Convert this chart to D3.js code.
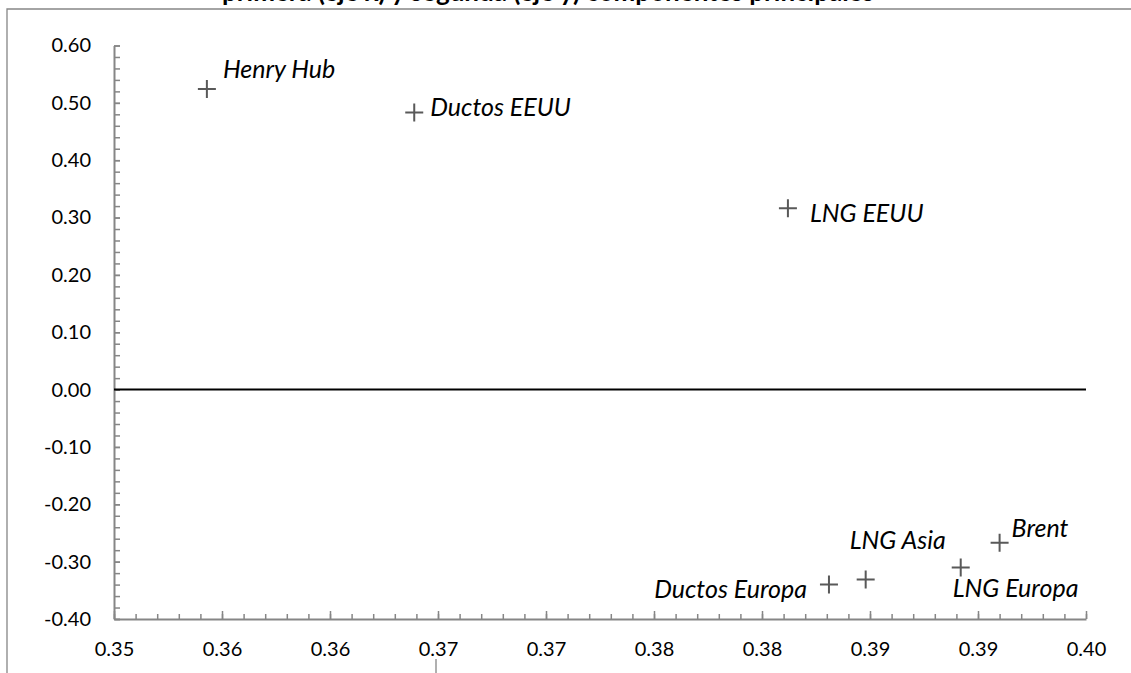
<!DOCTYPE html>
<html>
<head>
<meta charset="utf-8">
<script src="https://cdn.jsdelivr.net/npm/d3@7"></script>
<style>
    body { margin: 0; background: #fff; }
    #chart { width: 1131px; height: 673px; }
    .tick-label { font-family: Lato, "Open Sans", sans-serif; font-size: 20px; fill: #000; }
    .point-label { font-family: Lato, "Open Sans", sans-serif; font-size: 25px; font-style: italic; fill: #000; }
    .chart-title { font-family: Lato, "Open Sans", sans-serif; font-size: 26px; font-weight: bold; fill: #000; }
</style>
</head>
<body>
<div id="chart"></div>
<script>

// data
const seriesNames = ["Henry Hub", "Ductos EEUU", "LNG EEUU", "Ductos Europa", "LNG Asia", "LNG Europa", "Brent"];
const xValues = [0.3543, 0.3639, 0.3812, 0.3831, 0.3848, 0.3892, 0.3910];
const yValues = [0.524, 0.483, 0.316, -0.340, -0.331, -0.310, -0.267];

// axis ticks
const xTicks = [0.35, 0.355, 0.36, 0.365, 0.37, 0.375, 0.38, 0.385, 0.39, 0.395];
const xTickLabels = ["0.35", "0.36", "0.36", "0.37", "0.37", "0.38", "0.38", "0.39", "0.39", "0.40"];
const yTicks = [-0.4, -0.3, -0.2, -0.1, 0, 0.1, 0.2, 0.3, 0.4, 0.5, 0.6];
const yTickLabels = ["-0.40", "-0.30", "-0.20", "-0.10", "0.00", "0.10", "0.20", "0.30", "0.40", "0.50", "0.60"];

// where each data label sits relative to its marker
const labelPlacement = ["aboveRight", "right", "belowRight", "left", "above", "below", "aboveRight2"];

class ScatterVis {

    constructor(_parentElement) {
        this.parentElement = _parentElement;
        this.data = seriesNames.map((name, i) => ({ name: name, x: xValues[i], y: yValues[i], place: labelPlacement[i] }));
        this.initVis();
    }

    initVis() {
        let vis = this;

        vis.width = 1131;
        vis.height = 673;

        vis.svg = d3.select("#" + vis.parentElement).append("svg")
            .attr("width", vis.width)
            .attr("height", vis.height);

        // chart frame (only top and left edges are inside the picture)
        vis.svg.append("path")
            .attr("d", "M7,680V9H1140")
            .attr("fill", "none")
            .attr("stroke", "#868686")
            .attr("stroke-width", 1.3);

        // edge of a neighbouring frame at the bottom
        vis.svg.append("line")
            .attr("x1", 436).attr("x2", 436)
            .attr("y1", 659).attr("y2", 680)
            .attr("stroke", "#868686")
            .attr("stroke-width", 1.3);

        // title, mostly cut off above the frame
        vis.svg.append("text")
            .attr("class", "chart-title")
            .attr("x", 548)
            .attr("y", 1)
            .attr("text-anchor", "middle")
            .text("primera (eje x) y segunda (eje y) componentes principales");

        vis.x = d3.scaleLinear()
            .domain([0.35, 0.395])
            .range([114, 1086]);

        vis.y = d3.scaleLinear()
            .domain([-0.4, 0.6])
            .range([619, 45.5]);

        // minor ticks
        let xMinor = d3.range(0, 46).map(i => 0.35 + i * 0.001);
        let yMinor = d3.range(0, 51).map(i => -0.4 + i * 0.02);

        vis.svg.append("g")
            .attr("transform", "translate(0," + vis.y(-0.4) + ")")
            .call(d3.axisBottom(vis.x).tickValues(xMinor).tickSize(-5).tickSizeOuter(0).tickFormat(""))
            .call(g => g.select(".domain").remove())
            .call(g => g.selectAll("line").attr("stroke", "#868686").attr("stroke-width", 1.5));

        vis.svg.append("g")
            .attr("transform", "translate(" + vis.x(0.35) + ",0)")
            .call(d3.axisLeft(vis.y).tickValues(yMinor).tickSize(-6).tickSizeOuter(0).tickFormat(""))
            .call(g => g.select(".domain").remove())
            .call(g => g.selectAll("line").attr("stroke", "#868686").attr("stroke-width", 1.5));

        // major axes
        vis.xAxis = d3.axisBottom(vis.x)
            .tickValues(xTicks)
            .tickSize(-8)
            .tickSizeOuter(0)
            .tickPadding(23)
            .tickFormat((d, i) => xTickLabels[i]);

        vis.yAxis = d3.axisLeft(vis.y)
            .tickValues(yTicks)
            .tickSize(-6)
            .tickSizeOuter(0)
            .tickPadding(23)
            .tickFormat((d, i) => yTickLabels[i]);

        vis.svg.append("g")
            .attr("transform", "translate(0," + vis.y(-0.4) + ")")
            .call(vis.xAxis)
            .call(g => g.select(".domain").attr("stroke", "#868686").attr("stroke-width", 2))
            .call(g => g.selectAll("line").attr("stroke", "#868686").attr("stroke-width", 1.5))
            .call(g => g.selectAll("text").attr("class", "tick-label").attr("font-family", null).attr("font-size", null));

        vis.svg.append("g")
            .attr("transform", "translate(" + vis.x(0.35) + ",0)")
            .call(vis.yAxis)
            .call(g => g.select(".domain").attr("stroke", "#868686").attr("stroke-width", 2))
            .call(g => g.selectAll("line").attr("stroke", "#868686").attr("stroke-width", 1.5))
            .call(g => g.selectAll("text").attr("class", "tick-label").attr("font-family", null).attr("font-size", null));

        // zero line
        vis.svg.append("line")
            .attr("x1", vis.x(0.35))
            .attr("x2", vis.x(0.395))
            .attr("y1", vis.y(0))
            .attr("y2", vis.y(0))
            .attr("stroke", "#000")
            .attr("stroke-width", 2);

        vis.updateVis();
    }

    updateVis() {
        let vis = this;

        let arm = 9;

        let points = vis.svg.selectAll(".point")
            .data(vis.data)
            .enter()
            .append("g")
            .attr("class", "point")
            .attr("transform", d => "translate(" + vis.x(d.x) + "," + vis.y(d.y) + ")");

        points.append("path")
            .attr("d", "M" + (-arm) + ",0H" + arm + "M0," + (-arm) + "V" + arm)
            .attr("stroke", "#595959")
            .attr("stroke-width", 2)
            .attr("fill", "none");

        // label offsets per placement
        let offsets = {
            aboveRight: { dx: 16, dy: -11, anchor: "start" },
            right: { dx: 16, dy: 3, anchor: "start" },
            belowRight: { dx: 22, dy: 14, anchor: "start" },
            left: { dx: -22, dy: 13, anchor: "end" },
            above: { dx: 32, dy: -30, anchor: "middle" },
            below: { dx: -8, dy: 30, anchor: "start" },
            aboveRight2: { dx: 12, dy: -6, anchor: "start" }
        };

        points.append("text")
            .attr("class", "point-label")
            .attr("x", d => offsets[d.place].dx)
            .attr("y", d => offsets[d.place].dy)
            .attr("text-anchor", d => offsets[d.place].anchor)
            .text(d => d.name);
    }
}

new ScatterVis("chart");

</script>
</body>
</html>
